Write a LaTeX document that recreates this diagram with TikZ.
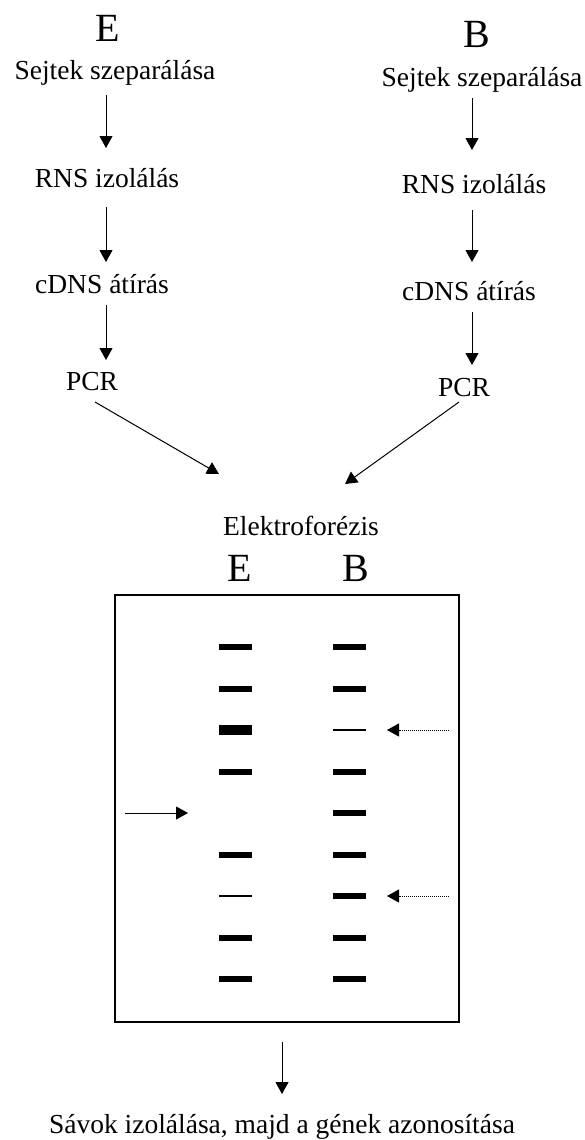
\documentclass[tikz,border=0pt]{standalone}
\usepackage{fontspec}
\setmainfont{Liberation Serif}
\usetikzlibrary{arrows.meta}
\begin{document}
\begin{tikzpicture}[x=1pt,y=-1pt,
  txt/.style={inner sep=0pt, anchor=base, font=\fontsize{27.5}{30}\selectfont},
  big/.style={inner sep=0pt, anchor=base, font=\fontsize{40}{44}\selectfont},
  arr/.style={-{Triangle[length=12pt,width=13pt]}, line width=1pt},
  dotarr/.style={-{Triangle[length=12pt,width=13pt]}, line width=1pt, dash pattern=on 1pt off 1pt},
  gel/.style={draw, line width=1.2pt},
  band/.style={fill=black},
  thinband/.style={line width=1.5pt}
]
\useasboundingbox (0,0) rectangle (585,1140);
% left column
\node[big] (eTop) at (108,42) {E};
\node[txt] (sejL) at (115,80) {Sejtek szeparálása};
\node[txt] (rnsL) at (107,187) {RNS izolálás};
\node[txt] (cdnsL) at (102,293) {cDNS átírás};
\node[txt] (pcrL) at (92,390) {PCR};
% right column
\node[big] (bTop) at (477,48) {B};
\node[txt] (sejR) at (482,86) {Sejtek szeparálása};
\node[txt] (rnsR) at (474,193) {RNS izolálás};
\node[txt] (cdnsR) at (469,300) {cDNS átírás};
\node[txt] (pcrR) at (464,396) {PCR};
% electrophoresis
\node[txt] (elek) at (301,535) {Elektroforézis};
\node[big] (eGel) at (240,581) {E};
\node[big] (bGel) at (356,581) {B};
\node[txt] (final) at (282,1133) {Sávok izolálása, majd a gének azonosítása};
% arrow coordinates
\coordinate (l1s) at (106,95);  \coordinate (l1e) at (106,148);
\coordinate (l2s) at (106,207); \coordinate (l2e) at (106,262);
\coordinate (l3s) at (106,305); \coordinate (l3e) at (106,360);
\coordinate (r1s) at (472,98);  \coordinate (r1e) at (472,150);
\coordinate (r2s) at (472,210); \coordinate (r2e) at (472,262);
\coordinate (r3s) at (472,312); \coordinate (r3e) at (472,365);
\coordinate (dls) at (95,402);  \coordinate (dle) at (219,474);
\coordinate (drs) at (459,402); \coordinate (dre) at (345,484);
\coordinate (fs) at (282,1042); \coordinate (fe) at (282,1094);
\draw[arr] (l1s) -- (l1e);
\draw[arr] (l2s) -- (l2e);
\draw[arr] (l3s) -- (l3e);
\draw[arr] (r1s) -- (r1e);
\draw[arr] (r2s) -- (r2e);
\draw[arr] (r3s) -- (r3e);
\draw[arr] (dls) -- (dle);
\draw[arr] (drs) -- (dre);
\draw[arr] (fs) -- (fe);
% gel box
\draw[gel] (115,595) rectangle (459,1022);
% E lane
\foreach \r in {1,2,4,6,8,9}
  \fill[band] (219,{647+41.5*(\r-1)-3}) rectangle (252,{647+41.5*(\r-1)+3});
\fill[band] (219,{647+41.5*2-5.3}) rectangle (252,{647+41.5*2+5.3});
\draw[thinband] (219,{647+41.5*6}) -- (252,{647+41.5*6});
% B lane
\foreach \r in {1,2,4,5,6,7,8,9}
  \fill[band] (333,{647+41.5*(\r-1)-3}) rectangle (366,{647+41.5*(\r-1)+3});
\draw[thinband] (333,{647+41.5*2}) -- (366,{647+41.5*2});
% marker arrows
\coordinate (ma) at (125,813); \coordinate (mb) at (188,813);
\draw[arr] (ma) -- (mb);
\coordinate (d1s) at (449,730); \coordinate (d1e) at (387,730);
\coordinate (d2s) at (449,896); \coordinate (d2e) at (387,896);
\draw[dotarr] (d1s) -- (d1e);
\draw[dotarr] (d2s) -- (d2e);
\end{tikzpicture}
\end{document}
